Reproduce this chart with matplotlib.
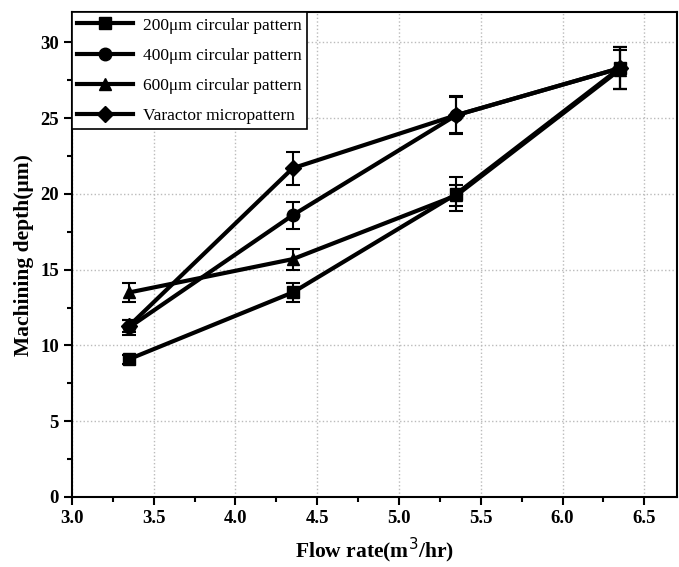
import numpy as np
import matplotlib.pyplot as plt
from matplotlib.ticker import MultipleLocator

plt.rcParams['font.family'] = ['Liberation Serif', 'DejaVu Serif']

# Данные
flow = [3.35, 4.35, 5.35, 6.35]
labels = ['200\u03bcm circular pattern', '400\u03bcm circular pattern',
          '600\u03bcm circular pattern', 'Varactor micropattern']
markers = ['s', 'o', '^', 'D']
depth_200 = [9.1, 13.5, 20.0, 28.3]
err_200 = [0.3, 0.6, 1.1, 1.4]
depth_400 = [11.2, 18.6, 25.2, 28.3]
err_400 = [0.5, 0.9, 1.2, 1.4]
depth_600 = [13.5, 15.7, 19.9, 28.2]
err_600 = [0.65, 0.7, 0.7, 1.3]
depth_var = [11.3, 21.7, 25.2, 28.3]
err_var = [0.4, 1.1, 1.25, 1.4]

series = [(depth_200, err_200), (depth_400, err_400),
          (depth_600, err_600), (depth_var, err_var)]

fig = plt.figure(figsize=(6.79, 5.67), dpi=100)
ax = fig.add_axes([0.106, 0.1235, 0.891, 0.855])

for (d, e), m, lab in zip(series, markers, labels):
    ax.errorbar(flow, d, yerr=e, color='black', lw=3, marker=m,
                ms=9 if m != 'D' else 8, capsize=5, elinewidth=1.5,
                capthick=1.5, label=lab)

ax.set_xlim(3.0, 6.7)
ax.set_ylim(0, 32)
ax.xaxis.set_major_locator(MultipleLocator(0.5))
ax.xaxis.set_minor_locator(MultipleLocator(0.25))
ax.yaxis.set_major_locator(MultipleLocator(5))
ax.yaxis.set_minor_locator(MultipleLocator(2.5))
ax.tick_params(which='major', direction='out', length=6, width=1.5,
               labelsize=13.5)
ax.tick_params(which='minor', direction='out', length=3.5, width=1.5)
for lbl in ax.get_xticklabels() + ax.get_yticklabels():
    lbl.set_fontweight('bold')
for s in ax.spines.values():
    s.set_linewidth(1.5)
ax.grid(True, which='major', ls=':', color='#bbbbbb', lw=1)

ax.set_xlabel('Flow rate(m$^3$/hr)', fontsize=15.5, fontweight='bold',
              labelpad=6)
ax.set_ylabel('Machining depth(\u03bcm)', fontsize=15.5, fontweight='bold')

handles, labs = ax.get_legend_handles_labels()
handles = [h[0] for h in handles]
leg = ax.legend(handles, labs, loc='upper left', bbox_to_anchor=(0, 1),
                borderaxespad=0, fancybox=False, edgecolor='black',
                framealpha=1, fontsize=12.5, handlelength=3.2,
                handletextpad=0.6, labelspacing=0.8, borderpad=0.3)
leg.get_frame().set_linewidth(1.2)

fig.savefig('out.png', dpi=100)
